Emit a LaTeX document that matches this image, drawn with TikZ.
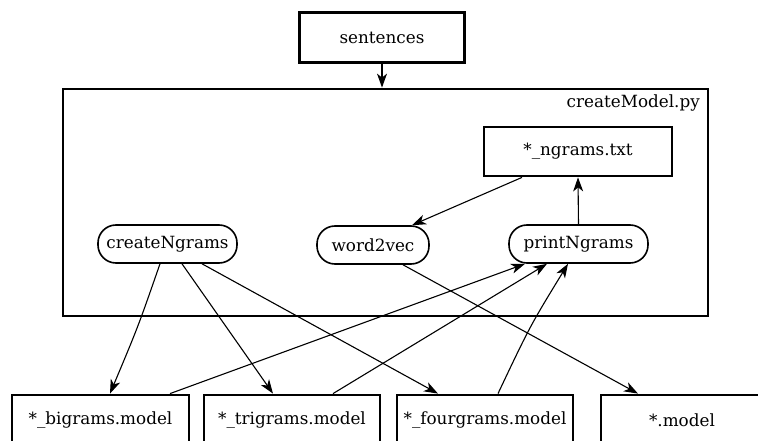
\documentclass[tikz,border=0pt]{standalone}
\usepackage{fontspec}
\setmainfont{DejaVu Serif}
\usetikzlibrary{arrows.meta}
\tikzset{
  filebox/.style={draw, line width=2.8pt, rectangle, minimum height=50pt, inner sep=0pt},
  procnode/.style={draw, line width=1.6pt, rectangle, rounded corners=18pt, minimum height=38pt, inner sep=0pt},
  flow/.style={line width=1.1pt, -{Stealth[length=14pt,width=10pt,inset=4pt]}},
}
\begin{document}
\begin{tikzpicture}[x=1pt,y=-1pt,font=\fontsize{16.8}{19}\selectfont]
\useasboundingbox (0,0) rectangle (758,441);
\clip (0,0) rectangle (758,441);

% script container
\node[draw, line width=2.8pt, minimum width=645pt, minimum height=227pt, inner sep=0pt] (cm) at (385.5,202.5) {};
\node[anchor=east, inner sep=0pt] (cmlabel) at (700,103) {createModel.py};

% input
\node[filebox, minimum width=165pt] (sent) at (382,37.5) {sentences};

% inside the script
\node[filebox, minimum width=188pt, minimum height=49pt] (ng) at (578,151.5) {*\_ngrams.txt};
\node[procnode, minimum width=139pt] (cn) at (167.5,244) {createNgrams};
\node[procnode, minimum width=112pt] (wv) at (373,245) {word2vec};
\node[procnode, minimum width=139pt] (pn) at (578.5,244) {printNgrams};

% outputs
\node[filebox, minimum width=177pt] (bi) at (100.5,420) {*\_bigrams.model};
\node[filebox, minimum width=176pt] (tri) at (292,420) {*\_trigrams.model};
\node[filebox, minimum width=176pt] (four) at (485,420) {*\_fourgrams.model};
\node[filebox, minimum width=162pt] (mdl) at (682,420) {*.model};

% connectors
\draw[flow] (sent.south) -- (sent.south |- cm.north);
\draw[flow] (pn.north) -- (ng.south);
\draw[flow] ([xshift=-56pt]ng.south) -- ([xshift=39pt]wv.north);
\draw[flow] ([xshift=30pt]wv.south) -- ([xshift=-44pt]mdl.north);

\draw[flow] ([xshift=-7.5pt]cn.south) .. controls (138,327) .. ([xshift=9.5pt]bi.north);
\draw[flow] ([xshift=14.5pt]cn.south) -- ([xshift=-19pt]tri.north);
\draw[flow] ([xshift=34.5pt]cn.south) -- ([xshift=-47pt]four.north);

\draw[flow] ([xshift=69.5pt]bi.north) -- ([xshift=-53.5pt]pn.south);
\draw[flow] ([xshift=41pt]tri.north) -- ([xshift=-31.5pt]pn.south);
\draw[flow] ([xshift=13pt]four.north) .. controls (530,326) .. ([xshift=-10.5pt]pn.south);
\end{tikzpicture}
\end{document}
